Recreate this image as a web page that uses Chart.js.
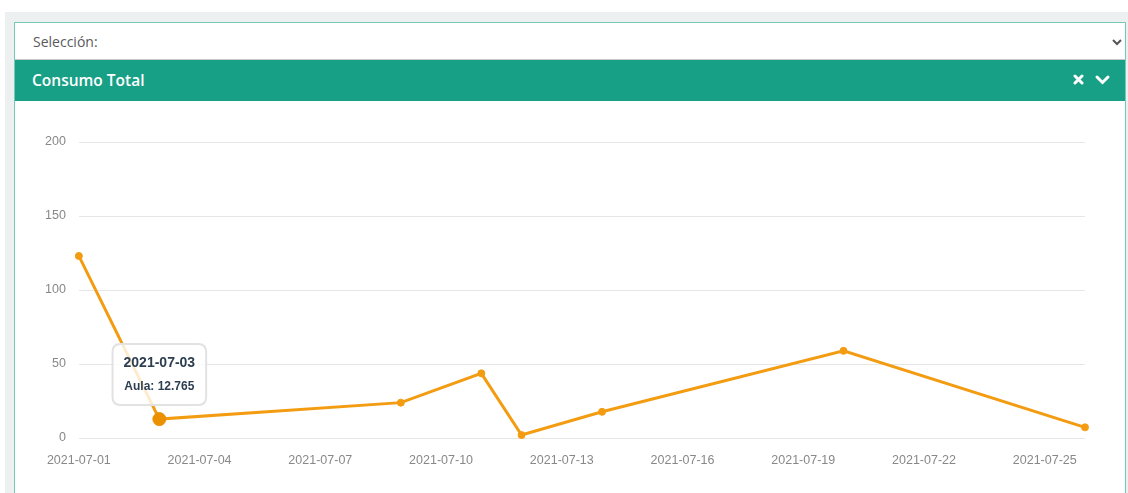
<!DOCTYPE html>
<html lang="es">
<head>
  <meta charset="UTF-8">
  <title>Consumo Total</title>
  <script src="https://cdn.jsdelivr.net/npm/chart.js"></script>
  <style>
    body { margin: 0; background: #fff; font-family: "Open Sans", sans-serif; }
    #fondo { position: absolute; left: 5px; top: 12px; width: 1123px; height: 481px; background: #ecf0f1; }
    #panel { position: absolute; left: 14px; top: 22px; width: 1110px; height: 471px; background: #fff;
             border-left: 1px solid #76c9b9; border-right: 1px solid #76c9b9; border-top: 1px solid #76c9b9; }
    #seleccion { position: absolute; left: 0; top: 0; width: 1110px; height: 36px; border-bottom: 1px solid #c8c8c8; }
    #seleccion span { position: absolute; left: 18px; top: 9px; font-size: 14px; color: #5a5a5a; }
    #seleccion svg { position: absolute; right: 2px; top: 14px; }
    #cabecera { position: absolute; left: 0; top: 37px; width: 1110px; height: 41px; background: #17a086; }
    #cabecera span { position: absolute; left: 17px; top: 9px; font-size: 15.5px; font-weight: 600; color: #fff; }
    #cabecera .iconos { position: absolute; right: 12px; top: 13px; }
    #grafico { position: absolute; left: 0; top: 78px; width: 1110px; height: 393px; }
  </style>
</head>
<body>
  <div id="fondo"></div>
  <div id="panel">
    <div id="seleccion">
      <span>Selección:</span>
      <svg width="12" height="10" viewBox="0 0 12 10"><polyline points="2,3 6,7 10,3" fill="none" stroke="#555" stroke-width="2"/></svg>
    </div>
    <div id="cabecera">
      <span>Consumo Total</span>
      <svg class="iconos" width="40" height="14" viewBox="0 0 40 14">
        <path d="M2,3 L9,10 M9,3 L2,10" stroke="#fff" stroke-width="3" stroke-linecap="round"/>
        <polyline points="24,4 29.5,9.5 35,4" fill="none" stroke="#fff" stroke-width="3" stroke-linecap="round"/>
      </svg>
    </div>
    <div id="grafico"><canvas id="consumoChart"></canvas></div>
  </div>

  <script>
    // Datos del gráfico
    const fechas = ['2021-07-01', '2021-07-03', '2021-07-09', '2021-07-11', '2021-07-12', '2021-07-14', '2021-07-20', '2021-07-26'];
    const consumoAula = [123.0, 12.765, 23.9, 43.7, 2.0, 17.7, 58.9, 7.2];
    const etiquetasX = ['2021-07-01', '2021-07-04', '2021-07-07', '2021-07-10', '2021-07-13', '2021-07-16', '2021-07-19', '2021-07-22', '2021-07-25'];
    const etiquetasY = [0, 50, 100, 150, 200];

    const DIA = 86400000;
    const inicio = Date.parse(fechas[0]);
    const aDia = (f) => (Date.parse(f) - inicio) / DIA;
    const aFecha = (d) => new Date(inicio + d * DIA).toISOString().slice(0, 10);

    const puntos = fechas.map((f, i) => ({ x: aDia(f), y: consumoAula[i] }));

    const ctx = document.getElementById('consumoChart').getContext('2d');
    const naranja = '#f39c12';

    const consumoChart = new Chart(ctx, {
      type: 'line',
      data: {
        datasets: [{
          label: 'Aula',
          data: puntos,
          borderColor: naranja,
          backgroundColor: naranja,
          pointBackgroundColor: naranja,
          pointBorderColor: naranja,
          borderWidth: 3,
          pointRadius: 3.5,
          pointHoverRadius: 6.5,
          pointBorderWidth: 1,
          tension: 0,
          fill: false,
          clip: false,
        }]
      },
      options: {
        responsive: true,
        maintainAspectRatio: false,
        animation: false,
        layout: { padding: { left: 17, right: 40, top: 41, bottom: 11 } },
        plugins: {
          legend: { display: false },
          tooltip: {
            backgroundColor: 'rgba(255,255,255,0.8)',
            borderColor: '#e2e2e2',
            borderWidth: 2,
            cornerRadius: 8,
            titleColor: '#2c3e50',
            bodyColor: '#2c3e50',
            titleFont: { family: 'Liberation Sans', size: 14, weight: 'bold' },
            bodyFont: { family: 'Liberation Sans', size: 12, weight: 'bold' },
            titleAlign: 'center',
            bodyAlign: 'center',
            titleMarginBottom: 8,
            padding: 11,
            displayColors: false,
            caretSize: 0,
            caretPadding: 14,
            xAlign: 'center',
            yAlign: 'bottom',
            callbacks: {
              title: (items) => aFecha(items[0].parsed.x),
              label: (item) => item.dataset.label + ': ' + item.parsed.y,
            }
          }
        },
        scales: {
          x: {
            type: 'linear',
            min: 0,
            max: aDia(fechas[fechas.length - 1]),
            afterBuildTicks: (axis) => { axis.ticks = etiquetasX.map((f) => ({ value: aDia(f) })); },
            grid: { display: false, drawTicks: false },
            border: { display: false },
            ticks: {
              color: '#888',
              font: { family: 'Liberation Sans', size: 12.5 },
              padding: 15,
              maxRotation: 0,
              callback: (v) => aFecha(v),
            }
          },
          y: {
            min: 0,
            max: 200,
            afterBuildTicks: (axis) => { axis.ticks = etiquetasY.map((v) => ({ value: v })); },
            grid: { color: '#e6e6e6', lineWidth: 1, drawTicks: false },
            border: { display: false },
            ticks: {
              color: '#888',
              font: { family: 'Liberation Sans', size: 12.5 },
              padding: 13,
            }
          }
        }
      }
    });

    // Mostrar el tooltip del punto 2021-07-03
    const activo = [{ datasetIndex: 0, index: 1 }];
    const meta = consumoChart.getDatasetMeta(0).data[1];
    consumoChart.setActiveElements(activo);
    consumoChart.tooltip.setActiveElements(activo, { x: meta.x, y: meta.y });
    consumoChart.update();
  </script>
</body>
</html>
